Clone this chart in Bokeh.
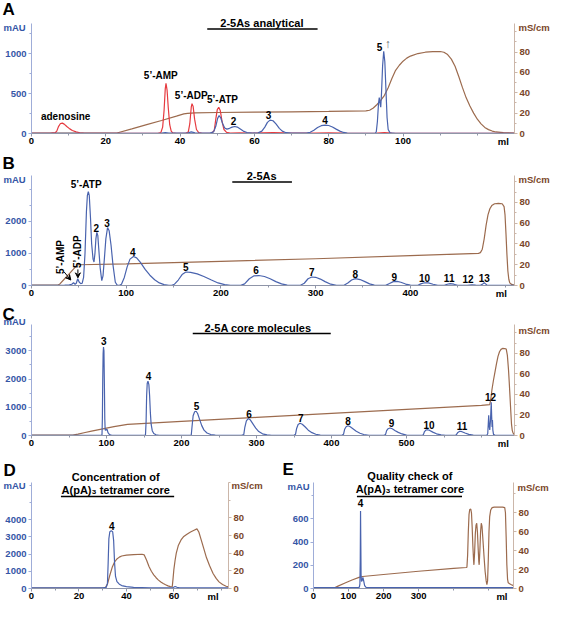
import math
from bokeh.plotting import figure
from bokeh.models import Range1d, LinearAxis, FixedTicker, Label, Arrow, VeeHead
from bokeh.layouts import column, row
from bokeh.embed import file_html
from bokeh.resources import INLINE

FONT = "Liberation Sans"
BLUE = "#4963ae"
RED = "#e63b40"
BROWN = "#9c6b4e"
TBLUE = "#3556a6"
TBROWN = "#7a4629"

# ---------------- data (ml, mAU) / (ml, mS/cm) ----------------
A_STD = [(0,2),(5,2),(5.8,8),(6.3,6),(6.8,30),(7.3,90),(7.8,125),(8.3,130),(8.8,118),(9.5,88),(10.3,58),(11,38),(12,20),(13,9),(14,4),(16,2),
         (34,2),(34.8,10),(35.3,80),(35.7,300),(36,560),(36.2,630),(36.5,540),(36.8,330),(37.2,110),(37.6,30),(38,8),(39,2),
         (41.5,2),(42.2,20),(42.6,120),(43,330),(43.2,375),(43.5,340),(43.9,180),(44.4,50),(45,12),(46,3),
         (48.5,3),(49.2,40),(49.6,180),(50,300),(50.4,330),(50.8,290),(51.3,150),(51.8,50),(52.5,14),(53.5,5),
         (56,8),(59,4),(62,9),(65,12),(68,7),(72,4),(76,6),(80,9),(84,5),(88,3),(93,4),(95,12),(97,5),(100,3),(130,2)]
A_SMP = [(0,3),(30,3),(35,5),(36,10),(37,5),(42,5),(43,20),(44,8),(48,5),(49,20),(49.6,90),(50.1,190),(50.5,225),(50.9,200),(51.4,130),
         (52,70),(52.6,55),(53.3,65),(54,80),(54.7,88),(55.4,80),(56.2,55),(57,30),(58,12),(59.5,5),(61,8),(62,30),(62.8,80),(63.5,140),
         (64.2,168),(65,160),(65.8,120),(66.7,65),(67.5,30),(68.5,10),(70,4),(74,5),(75,15),(76,40),(77,75),(78,98),(79,106),(80,100),
         (81,82),(82,55),(83,30),(84,13),(85,5),(87,3),(92.5,3),(92.8,20),(93.1,150),(93.4,380),(93.6,450),(93.8,380),(94,330),
         (94.2,500),(94.5,850),(94.8,1030),(95.1,900),(95.4,550),(95.7,200),(96,50),(96.5,8),(98,3),(130,3)]
A_COND = [(0,0.5),(23,0.5),(27,4.5),(31,8.7),(35,12.8),(39,17),(41,19.2),(42,19.8),(44,20.3),(50,20.6),(60,21),(70,21.3),(80,21.7),
          (90,22.2),(91,22.8),(92,25),(93,28.5),(94,32.5),(95,37.5),(96,45),(97,54),(98,62),(99,67),(100,71),(101,74),(102,76),
          (104,78.5),(106,79.8),(108,80.3),(110,80.5),(111,79.8),(112,77.5),(113,73),(114,66),(115,56),(116,45),(117,35),(118,27),
          (119,20),(120,14),(121,9.5),(122,6),(123,3.8),(124,2.4),(125,1.5),(127,0.8),(130,0.5)]
A_PEAKS = [("adenosine",9.2,150),("5’-AMP",34.8,660),("5’-ADP",43,410),("5’-ATP",51.4,355),("2",54.4,105),("3",63.8,185),("4",79,125),("5",93.7,1040)]

B_SMP = [(0,5),(28,5),(35,10),(40,18),(42.5,40),(44.4,85),(46,40),(47.3,70),(48.8,210),(50.3,110),(52,60),(53.5,70),(55,250),(56.5,1000),
         (58,2300),(59,2800),(60,2920),(61,2800),(62.3,2100),(63.5,1300),(65,820),(66,730),(67,1000),(68,1450),(69,1650),(70,1560),
         (71,1150),(72.5,550),(74.2,150),(75.5,300),(77,850),(78.5,1450),(80.3,1800),(82,1700),(84,1250),(86,650),(88.5,100),(90.5,10),
         (93,5),(95,40),(98,250),(101,580),(104,820),(107.7,900),(111,860),(115,720),(120,500),(125,320),(130,180),(135,80),(140,28),
         (145,6),(148,8),(151,40),(155,170),(159,340),(163,420),(168,410),(175,360),(182,280),(190,170),(197,80),(204,25),(210,8),
         (221,5),(225,50),(230,210),(235,300),(240,310),(246,280),(252,210),(258,120),(264,50),(270,12),(284,5),(288,70),(292,210),
         (296,265),(300,255),(305,200),(310,120),(316,40),(322,8),(330,5),(334,80),(338,170),(342,215),(347,185),(352,120),(357,50),
         (362,10),(374,5),(378,60),(382,120),(386,130),(390,100),(395,45),(400,10),(408,5),(411,50),(415,85),(419,80),(424,40),
         (429,8),(436,5),(439,40),(442,60),(446,40),(450,8),(460,5),(465,22),(469,12),(474,5),(476.5,50),(478,85),(479.5,50),(481,8),(510,5)]
B_COND = [(0,0.5),(28,0.5),(30,1.5),(35,6.5),(40,11.5),(45,16.5),(48,19.5),(50,20),(100,20.9),(200,23.3),(300,25.8),(400,28.7),
          (472,31),(474,31.7),(476,35),(478,45),(480,58),(482,68),(484,74),(486,77),(489,78.8),(493,79.2),(497,78.8),(499,76),
          (500,68),(501,50),(502,30),(503,14),(504,6),(505,2.5),(507,1),(510,0.5)]
B_PEAKS = [("5’-ATP",57.7,2960),("2",68.3,1660),("3",79.8,1830),("4",107,930),("5",163,440),("6",237,360),("7",296,280),
           ("8",342,235),("9",383,155),("10",415,120),("11",441,100),("12",461,90),("13",478,100)]

C_SMP = [(0,5),(93,5),(94,30),(94.5,600),(95,2000),(95.5,2900),(96,3130),(96.6,3000),(97.2,1800),(97.7,600),(98.2,200),(99,180),
         (100,220),(101,200),(102,100),(104,30),(107,5),(151,5),(152,30),(152.8,500),(153.5,1400),(154.3,1850),(155.3,1920),
         (156.5,1800),(157.5,1400),(158.5,800),(159.5,400),(161,170),(163,70),(166,25),(170,8),(212,5),(213,20),(214,300),
         (215.5,700),(217.5,840),(219.5,860),(221.5,780),(224,580),(227,350),(230,190),(234,90),(239,35),(245,10),(280,5),
         (283,30),(284.5,300),(286.5,520),(289,600),(291.5,560),(295,420),(299,260),(303,140),(308,60),(314,20),(320,5),
         (350,5),(352,40),(353.5,250),(355.5,390),(358,435),(361,400),(365,300),(369,190),(374,100),(379,45),(385,12),(392,5),
         (414,5),(416,40),(417.5,220),(419.5,310),(422,345),(425,310),(429,230),(433,150),(438,80),(443,35),(450,8),
         (470,5),(472,30),(473.5,170),(475.5,240),(478,265),(481,240),(485,170),(489,110),(494,55),(500,15),(506,5),
         (521,5),(522.5,30),(524,140),(526,195),(528,205),(531,180),(535,120),(540,60),(546,20),(552,5),
         (565,5),(566.5,30),(568.5,110),(571,150),(574,135),(578,90),(583,40),(589,12),(596,5),
         (607,5),(608.3,60),(609,400),(609.6,720),(610.2,350),(611,200),(612,550),(613,1180),(613.6,650),(614.1,300),
         (614.6,550),(615.1,200),(616,40),(618,8),(644,5)]
C_COND = [(0,0.3),(55,0.3),(62,1.4),(70,2.7),(80,4.2),(90,5.7),(100,7.2),(110,8.6),(120,9.9),(128,10.8),(140,11.4),(200,13.7),
          (300,17.6),(400,21.5),(500,25.4),(600,29.3),(611,30),(612.5,36),(614,45),(616,54),(618,62),(620,70),(622,77),(624,81.5),
          (626,83.8),(628,84.7),(631,84.6),(633,84),(634.5,78),(636,64),(637,51.6),(638,38),(639,24),(640,11),(641,5),(642,2.5),(644,0.7)]
C_PEAKS = [("3",96.5,3220),("4",156,1960),("5",220,895),("6",290,630),("7",359,480),("8",422,380),("9",480,290),
           ("10",530,230),("11",574,180),("12",612,1220)]

D_SMP = [(0,40),(30,40),(31.5,70),(32,300),(32.3,1500),(32.6,2900),(33,3300),(33.6,3350),(34.2,3300),(34.6,2800),(35,1500),
         (35.4,700),(36,400),(37,250),(38,170),(40,110),(43,70),(50,45),(59.5,45),(60.5,120),(61.3,70),(62.5,45),(83,40)]
D_COND = [(0,0.5),(31,0.5),(32,5),(33,15),(34,24),(35,30),(36,33.5),(37,35.5),(38,36.8),(40,37.8),(43,38.3),(46.5,38.8),(47.5,38),
          (48.5,32),(49.5,25),(50.5,19.5),(51.5,15.5),(52.5,12.2),(53.5,9.5),(54.5,7.3),(55.5,5.6),(56.5,4.2),(57.5,3),(58.5,2.2),
          (59.3,2),(59.6,10),(60,22),(60.5,32),(61,40),(61.9,49),(63,55),(64,58.5),(65.5,61.5),(67,64),(68.5,66),(69.7,67.5),
          (70.5,64),(71.5,55),(72.5,46),(73.7,35),(75,26),(76.5,17),(77.8,11.4),(79,7.5),(80.5,4.5),(82,2.5),(83,1.8)]
D_PEAKS = [("4",33.8,3420)]

E_SMP = [(0,8),(128,8),(131,12),(132.5,40),(133.5,250),(134.3,670),(135,420),(135.8,120),(137,60),(139,70),(141,95),(143,70),
         (146,25),(150,10),(571,8)]
E_COND = [(0,0.3),(57,0.3),(70,2.5),(90,5.8),(110,9),(130,11.7),(140,12.7),(200,14.8),(300,18.2),(400,21.2),(436,22.2),(438,22.5),
          (440,35),(442,60),(444,78),(446,83.5),(449,84),(451,80),(453,65),(455,45),(457,30),(458,25),(460,38),(462,58),(464,67),
          (466,69),(468,60),(470,43),(472,28),(473,25),(475,40),(477,60),(479,69),(481,66),(484,50),(487,33),(490,18),(493,8),
          (495,4),(497,8),(499,30),(501,60),(503,76),(506,83),(510,85.5),(516,86),(540,86),(546,85.5),(548,80),(550,55),(552,25),
          (554,10),(556,6),(560,5),(565,4),(571,3)]
E_PEAKS = [("4",134.5,700)]


def xs(pts):
    return [p[0] for p in pts]


def ys(pts):
    return [p[1] for p in pts]


def lab(p, text, x, y, size="10px", color="black", align="center", baseline="bottom",
        xo=0, yo=0, angle=0.0, style="bold"):
    p.add_layout(Label(x=x, y=y, text=text, x_offset=xo, y_offset=yo, text_font=FONT,
                       text_font_style=style, text_font_size=size, text_color=color,
                       text_align=align, text_baseline=baseline, angle=angle))


def ext(r, lo_px, hi_px, span_px):
    d = (r[1] - r[0]) / span_px
    return Range1d(r[0] - lo_px * d, r[1] + hi_px * d)


def panel(width, height, xr, yr, cr, xt, xmin, yt, ymin, ct, cmin, bl, br, bt, bb, fs="9.5px"):
    fw = width - bl - br
    fh = height - bt - bb
    p = figure(width=width, height=height, x_range=ext(xr, bl, br, fw), y_range=ext(yr, bb, bt, fh),
               output_backend="svg", toolbar_location=None,
               min_border=0, min_border_left=0, min_border_right=0, min_border_top=0, min_border_bottom=0)
    p.extra_y_ranges = {"cond": ext(cr, bb, bt, fh)}
    p.grid.visible = False
    p.outline_line_color = None
    ra = LinearAxis(y_range_name="cond")
    p.add_layout(ra, "right")
    xa = p.xaxis[0]
    ya = p.yaxis[0]
    xa.fixed_location = yr[0]
    xa.bounds = (xr[0], xr[1])
    ya.fixed_location = xr[0]
    ya.bounds = (yr[0], yr[1])
    ra.fixed_location = xr[1]
    ra.bounds = (cr[0], cr[1])
    for ax, ticks, minor, lc, tc in ((xa, xt, xmin, "#8f95a8", "black"),
                                     (ya, yt, ymin, "#9fadd8", TBLUE),
                                     (ra, ct, cmin, "#cbb6a9", TBROWN)):
        ax.ticker = FixedTicker(ticks=ticks, minor_ticks=minor)
        ax.axis_line_color = lc
        ax.major_tick_line_color = lc
        ax.minor_tick_line_color = lc
        ax.major_tick_out = 3
        ax.major_tick_in = 0
        ax.minor_tick_out = 2
        ax.minor_tick_in = 0
        ax.major_label_standoff = 2
        ax.major_label_text_font = FONT
        ax.major_label_text_font_style = "bold"
        ax.major_label_text_font_size = fs
        ax.major_label_text_color = tc
    xa.major_label_standoff = 1
    return p, fh


def decorate(p, xr, yr, letter, lxo, lyo, uxo, uyo, sxo, syo, ml_x, fs="9.5px"):
    x0, x1 = xr
    top = yr[1]
    lab(p, letter, x0, top, size="17px", align="left", baseline="middle", xo=lxo, yo=lyo)
    lab(p, "mAU", x0, top, size=fs, color=TBLUE, align="left", baseline="middle", xo=uxo, yo=uyo)
    lab(p, "mS/cm", x1, top, size=fs, color=TBROWN, align="left", baseline="middle", xo=sxo, yo=syo)
    lab(p, "ml", ml_x, 0, size=fs, align="center", baseline="middle", yo=-8)


def title(p, top, lines, xc, ux0, ux1, fh, centers, ul_px, size="11px"):
    for s, c in zip(lines, centers):
        lab(p, s, xc, top, size=size, baseline="middle", yo=c)
    yul = top - ul_px * top / fh
    p.segment(x0=[ux0], y0=[yul], x1=[ux1], y1=[yul], line_color="black", line_width=1.5)


def traces(p, cond, samples):
    p.line(xs(cond), ys(cond), y_range_name="cond", line_color=BROWN, line_width=1.2)
    for pts, col in samples:
        p.line(xs(pts), ys(pts), line_color=col, line_width=1.2)


def peaks(p, items, size="10px"):
    for t, x, y in items:
        lab(p, t, x, y, size=size)


W = 551
# ---- A ----
AX, AY = (0, 130), (0, 1380)
pa, fha = panel(W, 150, AX, AY, (0, 108),
                [0, 20, 40, 60, 80, 100], [10, 30, 50, 70, 90, 110, 120],
                [0, 500, 1000], [250, 750, 1250], [0, 20, 40, 60, 80], [10, 30, 50, 70, 90, 100],
                31, 37, 23, 17)
traces(pa, A_COND, [(A_STD, RED), (A_SMP, BLUE)])
peaks(pa, A_PEAKS)
lab(pa, "↑", 95.9, 1040, size="12px", color="#666666", style="normal")
title(pa, AY[1], ["2-5As analytical"], 62, 47.3, 77, fha, [1], 5.5)
decorate(pa, AX, AY, "A", -29, 14, -28, -4, 4, -4, 127)

# ---- B ----
BX, BY = (0, 510), (0, 3420)
pb, fhb = panel(W, 152, BX, BY, (0, 106),
                [0, 100, 200, 300, 400], [50, 150, 250, 350, 450, 500],
                [0, 1000, 2000], [500, 1500, 2500, 3000], [0, 20, 40, 60, 80], [10, 30, 50, 70, 90, 100],
                31, 37, 25, 17)
traces(pb, B_COND, [(B_SMP, BLUE)])
peaks(pb, B_PEAKS)
lab(pb, "5’-AMP", 30.8, 885, size="10px", baseline="middle", angle=math.pi / 2)
lab(pb, "5’-ADP", 49.0, 1050, size="10px", baseline="middle", angle=math.pi / 2)
pb.add_layout(Arrow(end=VeeHead(size=5, line_color="black", line_width=1), x_start=34.5, y_start=420,
                    x_end=41.5, y_end=170, line_color="black", line_width=1))
pb.add_layout(Arrow(end=VeeHead(size=5, line_color="black", line_width=1), x_start=49.0, y_start=500,
                    x_end=49.0, y_end=240, line_color="black", line_width=1))
title(pb, BY[1], ["2-5As"], 243, 212, 275, fhb, [0], 6.5)
decorate(pb, BX, BY, "B", -29, 12, -28, -4, 4, -4, 496)

# ---- C ----
CX, CY = (0, 644), (0, 3930)
pc, fhc = panel(W, 150, CX, CY, (0, 108),
                [0, 100, 200, 300, 400, 500], [50, 150, 250, 350, 450, 550, 600],
                [0, 1000, 2000, 3000], [500, 1500, 2500, 3500], [0, 20, 40, 60, 80], [10, 30, 50, 70, 90, 100],
                31, 37, 22, 17)
traces(pc, C_COND, [(C_SMP, BLUE)])
peaks(pc, C_PEAKS)
title(pc, CY[1], ["2-5A core molecules"], 302, 215, 399, fhc, [-3], 9)
decorate(pc, CX, CY, "C", -29, 10, -28, 3, 4, -6, 629)

# ---- D ----
DX, DY = (0, 83), (0, 6160)
pd, fhd = panel(272, 152, DX, DY, (0, 120),
                [0, 20, 40, 60], [10, 30, 50, 70, 80],
                [0, 1000, 2000, 3000, 4000], [5000, 6000], [0, 20, 40, 60, 80], [100, 120],
                31, 44, 30, 16)
traces(pd, D_COND, [(D_SMP, BLUE)])
peaks(pd, D_PEAKS)
title(pd, DY[1], ["Concentration of", "A(pA)₃ tetramer core"], 35.5, 12.4, 60.1, fhd, [6, -7.5], 14)
decorate(pd, DX, DY, "D", -28, 12, -28, -3, 3, -3, 76.5)

# ---- E ----
EX, EY = (0, 571), (0, 915)
pe, fhe = panel(279, 152, EX, EY, (0, 112),
                [0, 100, 200, 300], [400, 500],
                [0, 200, 400, 600], [800], [0, 20, 40, 60, 80], [100],
                41, 38, 30, 16)
traces(pe, E_COND, [(E_SMP, BLUE)])
peaks(pe, E_PEAKS)
title(pe, EY[1], ["Quality check of", "A(pA)₃ tetramer core"], 275, 124, 424, fhe, [7, -6.5], 14)
decorate(pe, EX, EY, "E", -31, 13, -26, -4, 4, -5, 538)

layout = column(pa, pb, pc, row(pd, pe, spacing=0), spacing=0)
open("out.html", "w").write(file_html(layout, INLINE))
